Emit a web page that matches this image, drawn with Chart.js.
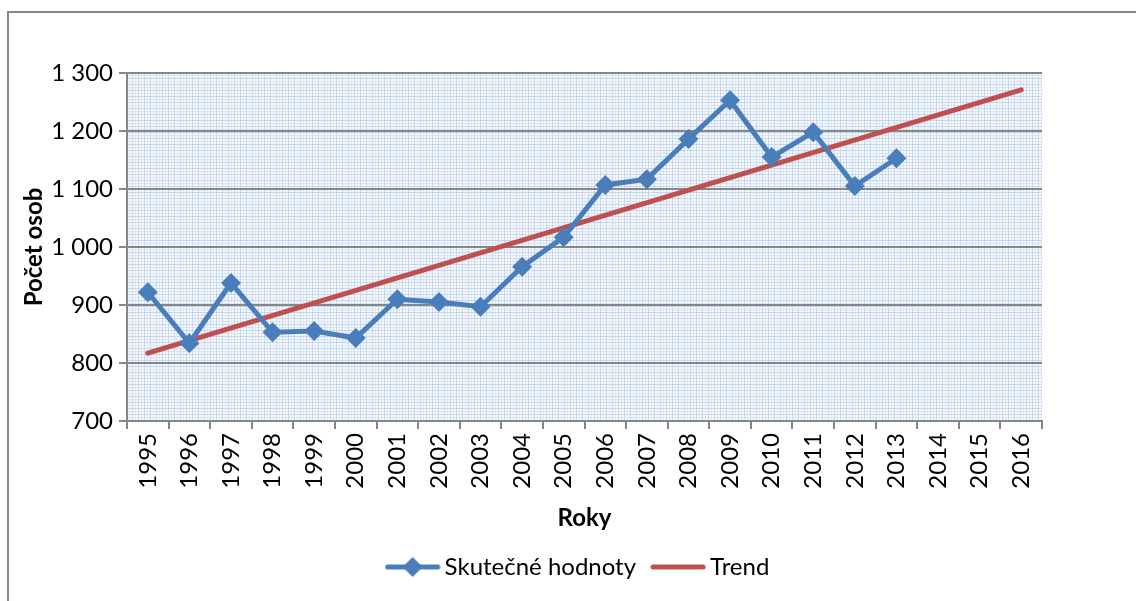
<!DOCTYPE html>
<html>
<head>
<meta charset="utf-8">
<script src="https://cdn.jsdelivr.net/npm/chart.js@4/dist/chart.umd.min.js"></script>
<style>
  html, body { margin: 0; padding: 0; background: #fff; }
  #box { width: 1136px; height: 601px; }
</style>
</head>
<body>
<div id="box"><canvas id="graf"></canvas></div>
<script>
// Data
const roky = ['1995','1996','1997','1998','1999','2000','2001','2002','2003','2004','2005',
  '2006','2007','2008','2009','2010','2011','2012','2013','2014','2015','2016'];
const skutecne = [922, 834, 938, 853, 855, 843, 910, 905, 897, 966, 1017,
  1107, 1117, 1186, 1253, 1155, 1198, 1105, 1153, null, null, null];
// trend = přímka, známe jen krajní body
const trend = [817, null, null, null, null, null, null, null, null, null, null,
  null, null, null, null, null, null, null, null, null, null, 1271];
const yTicks = [700, 800, 900, 1000, 1100, 1200, 1300];

const MODRA = '#4a7ebb';
const CERVENA = '#c0504d';
const PISMO = 'Lato, sans-serif';

// vzorek pozadí (jemná modrá mřížka)
function vzorek() {
  const c = document.createElement('canvas');
  c.width = 6; c.height = 6;
  const g = c.getContext('2d');
  g.fillStyle = '#f5f8fc';
  g.fillRect(0, 0, 6, 6);
  g.fillStyle = 'rgba(170,196,230,0.6)';
  g.fillRect(0, 0, 1, 6);
  g.fillRect(0, 0, 6, 1);
  g.fillStyle = 'rgba(200,216,240,0.5)';
  g.fillRect(3, 0, 1, 6);
  g.fillRect(0, 3, 6, 1);
  return c;
}

// ikonka do legendy: čára + kosočtverec
function ikona(barva, kosoctverec) {
  const c = document.createElement('canvas');
  c.width = 56; c.height = 22;
  const g = c.getContext('2d');
  g.strokeStyle = barva;
  g.lineWidth = 5;
  g.lineCap = 'round';
  g.beginPath(); g.moveTo(3, 11); g.lineTo(53, 11); g.stroke();
  if (kosoctverec) {
    g.fillStyle = barva;
    g.beginPath();
    g.moveTo(28, 1); g.lineTo(38, 11); g.lineTo(28, 21); g.lineTo(18, 11);
    g.closePath(); g.fill();
  }
  return c;
}

const pozadi = {
  id: 'pozadi',
  afterLayout(chart) {
    // legenda je v originále posunutá doprava
    chart.legend.left += 50;
    chart.legend.right += 50;
  },
  beforeDraw(chart) {
    const ctx = chart.ctx;
    const a = chart.chartArea;
    ctx.save();
    // rámeček celého grafu
    ctx.strokeStyle = '#868686';
    ctx.lineWidth = 2;
    ctx.strokeRect(8, 12, 1200, 700);
    ctx.fillStyle = ctx.createPattern(vzorek(), 'repeat');
    ctx.fillRect(a.left, a.top, a.right - a.left, a.bottom - a.top);
    ctx.restore();
  }
};

document.addEventListener('DOMContentLoaded', () => {
  const ctx = document.getElementById('graf').getContext('2d');
  new Chart(ctx, {
    type: 'line',
    data: {
      labels: roky,
      datasets: [{
        label: 'Skutečné hodnoty',
        data: skutecne,
        borderColor: MODRA,
        backgroundColor: MODRA,
        borderWidth: 5,
        pointStyle: 'rectRot',
        pointRadius: 10,
        pointHoverRadius: 10,
        pointBackgroundColor: MODRA,
        pointBorderWidth: 0,
        tension: 0
      }, {
        label: 'Trend',
        data: trend,
        borderColor: CERVENA,
        backgroundColor: CERVENA,
        borderWidth: 5,
        borderCapStyle: 'round',
        pointRadius: 0,
        spanGaps: true
      }]
    },
    options: {
      responsive: true,
      maintainAspectRatio: false,
      animation: false,
      layout: { padding: { left: 20, right: 94, top: 73, bottom: 12 } },
      plugins: {
        tooltip: { enabled: false },
        legend: {
          position: 'bottom',
          labels: {
            font: { family: PISMO, size: 24 },
            color: '#000',
            usePointStyle: true,
            pointStyleWidth: 40,
            boxHeight: 22,
            padding: 22,
            generateLabels(chart) {
              return chart.data.datasets.map((ds, i) => ({
                text: ds.label,
                pointStyle: ikona(ds.borderColor, i === 0),
                fontColor: '#000',
                lineWidth: 0,
                datasetIndex: i
              }));
            }
          }
        }
      },
      scales: {
        x: {
          offset: true,
          grid: {
            offset: true,
            drawOnChartArea: false,
            color: '#868686',
            lineWidth: 2,
            tickLength: 8
          },
          border: { color: '#868686', width: 2 },
          ticks: {
            minRotation: 90,
            maxRotation: 90,
            autoSkip: false,
            color: '#000',
            font: { family: PISMO, size: 24 },
            padding: 4
          },
          title: {
            display: true,
            text: 'Roky',
            color: '#000',
            font: { family: PISMO, size: 24, weight: 'bold' },
            padding: { top: 4, bottom: 0 }
          },
          afterFit(s) { s.height = 112; }
        },
        y: {
          min: 700,
          max: 1300,
          afterBuildTicks(s) { s.ticks = yTicks.map(v => ({ value: v })); },
          grid: {
            color: '#868686',
            lineWidth: 2,
            tickLength: 8
          },
          border: { color: '#868686', width: 2 },
          ticks: {
            color: '#000',
            font: { family: PISMO, size: 24 },
            padding: 6,
            callback: v => String(v).replace(/\B(?=(\d{3})+(?!\d))/g, ' ')
          },
          title: {
            display: true,
            text: 'Počet osob',
            color: '#000',
            font: { family: PISMO, size: 24, weight: 'bold' },
            padding: { top: 0, bottom: 2 }
          },
          afterFit(s) { s.width = 107; }
        }
      }
    },
    plugins: [pozadi]
  });
});
</script>
</body>
</html>
